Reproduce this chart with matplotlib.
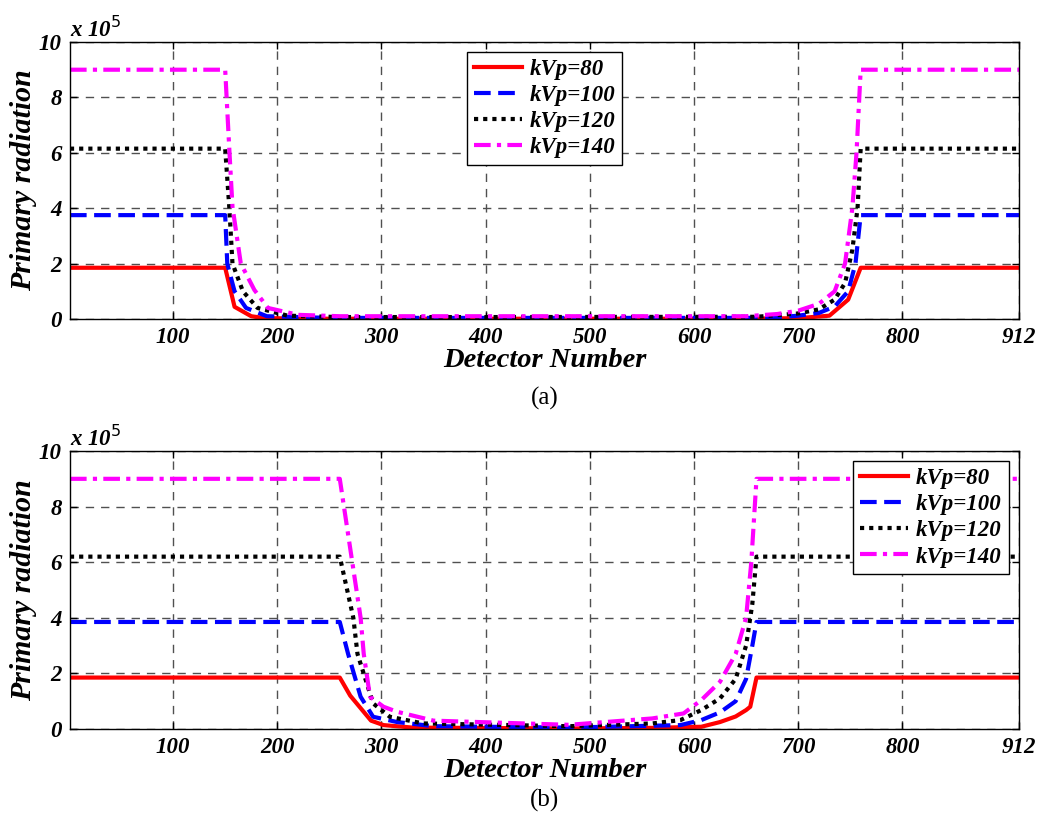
import matplotlib.pyplot as plt

plt.rcParams['font.family'] = ['Liberation Serif', 'DejaVu Serif']

# values in units of 10^5
labels = ["kVp=80", "kVp=100", "kVp=120", "kVp=140"]
colors = ["#ff0000", "#0000ff", "#000000", "#ff00ff"]
styles = ["-", (0, (4, 1.8)), (0, (1, 1.2)), (0, (4, 1.5, 1, 1.5))]

# ----- (a) -----
a_x80 = [1, 150, 159, 175, 188, 250, 400, 650, 700, 730, 748, 760, 912]
a_y80 = [1.85, 1.85, 0.44, 0.1, 0.03, 0.01, 0.01, 0.01, 0.03, 0.12, 0.7, 1.85, 1.85]
a_x100 = [1, 150, 152, 159, 170, 190, 250, 400, 650, 680, 700, 720, 735, 748, 755, 760, 912]
a_y100 = [3.75, 3.75, 2.0, 1.0, 0.4, 0.1, 0.04, 0.04, 0.04, 0.06, 0.12, 0.22, 0.45, 1.0, 2.0, 3.75, 3.75]
a_x120 = [1, 150, 154, 157, 167, 181, 210, 260, 400, 660, 700, 720, 735, 745, 752, 757, 760, 912]
a_y120 = [6.15, 6.15, 4.0, 2.0, 1.0, 0.4, 0.12, 0.07, 0.07, 0.08, 0.2, 0.35, 0.7, 1.3, 2.5, 4.0, 6.15, 6.15]
a_x140 = [1, 150, 154, 157, 165, 178, 191, 220, 260, 400, 650, 680, 700, 720, 735, 745, 752, 756, 760, 912]
a_y140 = [9.0, 9.0, 6.1, 4.05, 2.0, 1.05, 0.4, 0.15, 0.1, 0.1, 0.1, 0.18, 0.3, 0.55, 1.0, 2.0, 4.0, 6.0, 9.0, 9.0]

# ----- (b) -----
b_x80 = [1, 260, 270, 290, 302, 330, 480, 560, 607, 625, 640, 650, 654, 660, 912]
b_y80 = [1.85, 1.85, 1.2, 0.3, 0.14, 0.05, 0.02, 0.04, 0.08, 0.25, 0.45, 0.68, 0.8, 1.85, 1.85]
b_x100 = [1, 260, 268, 280, 292, 315, 350, 480, 587, 607, 625, 640, 650, 656, 660, 912]
b_y100 = [3.85, 3.85, 2.7, 1.16, 0.44, 0.25, 0.1, 0.05, 0.14, 0.32, 0.6, 1.0, 1.8, 3.0, 3.85, 3.85]
b_x120 = [1, 260, 273, 277, 292, 308, 340, 480, 560, 587, 607, 625, 640, 650, 656, 660, 912]
b_y120 = [6.2, 6.2, 4.0, 2.7, 0.92, 0.44, 0.2, 0.1, 0.2, 0.32, 0.68, 1.1, 1.8, 3.0, 4.5, 6.2, 6.2]
b_x140 = [1, 260, 272, 280, 283, 289, 302, 315, 350, 480, 560, 590, 607, 625, 640, 650, 655, 660, 912]
b_y140 = [9.0, 9.0, 6.0, 4.0, 2.7, 1.16, 0.8, 0.62, 0.3, 0.15, 0.38, 0.56, 1.04, 1.7, 2.7, 4.0, 6.0, 9.0, 9.0]

xticks = [100, 200, 300, 400, 500, 600, 700, 800, 912]
yticks = [0, 2, 4, 6, 8, 10]

fig = plt.figure(figsize=(10.41, 8.19), dpi=100)
ax1 = fig.add_axes([0.0672, 0.6105, 0.9117, 0.3382])
ax2 = fig.add_axes([0.0672, 0.1099, 0.9117, 0.3394])

panels = [
    (ax1, [(a_x80, a_y80), (a_x100, a_y100), (a_x120, a_y120), (a_x140, a_y140)], "upper center", "(a)", -0.245),
    (ax2, [(b_x80, b_y80), (b_x100, b_y100), (b_x120, b_y120), (b_x140, b_y140)], "upper right", "(b)", -0.215),
]

tfont = dict(family=['Liberation Serif'], weight='bold', style='italic')

for ax, series, loc, cap, cap_y in panels:
    for (x, y), lab, c, ls in zip(series, labels, colors, styles):
        ax.plot(x, y, color=c, linestyle=ls, linewidth=3, label=lab)
    ax.set_xlim(1, 912)
    ax.set_ylim(0, 10)
    ax.set_xticks(xticks)
    ax.set_yticks(yticks)
    ax.set_xticklabels([str(t) for t in xticks], fontsize=16.5, **tfont)
    ax.set_yticklabels([str(t) for t in yticks], fontsize=16.5, **tfont)
    ax.tick_params(direction='in', top=True, right=True, length=5, width=1, pad=6)
    ax.grid(True, color='#505050', linestyle=(0, (6, 5)), linewidth=1)
    for sp in ax.spines.values():
        sp.set_linewidth(1)
    ax.set_xlabel("Detector Number", fontsize=20.5, labelpad=0, **tfont)
    ax.set_ylabel("Primary radiation", fontsize=21.5, labelpad=1, **tfont)
    ax.text(0.0, 1.0, r"x 10$^{5}$", transform=ax.transAxes, fontsize=16.5,
            va='bottom', ha='left', **tfont)
    leg = ax.legend(loc=loc, fancybox=False, framealpha=1, edgecolor='black',
                    prop=dict(family='Liberation Serif', weight='bold', style='italic', size=16.5),
                    handlelength=2.1, handletextpad=0.35, labelspacing=0.22,
                    borderpad=0.3, borderaxespad=0.45)
    leg.get_frame().set_linewidth(1)
    ax.text(0.5, cap_y, cap, transform=ax.transAxes, fontsize=18,
            ha='center', va='top', family=['Liberation Serif'])

fig.savefig("out.png", dpi=100)
